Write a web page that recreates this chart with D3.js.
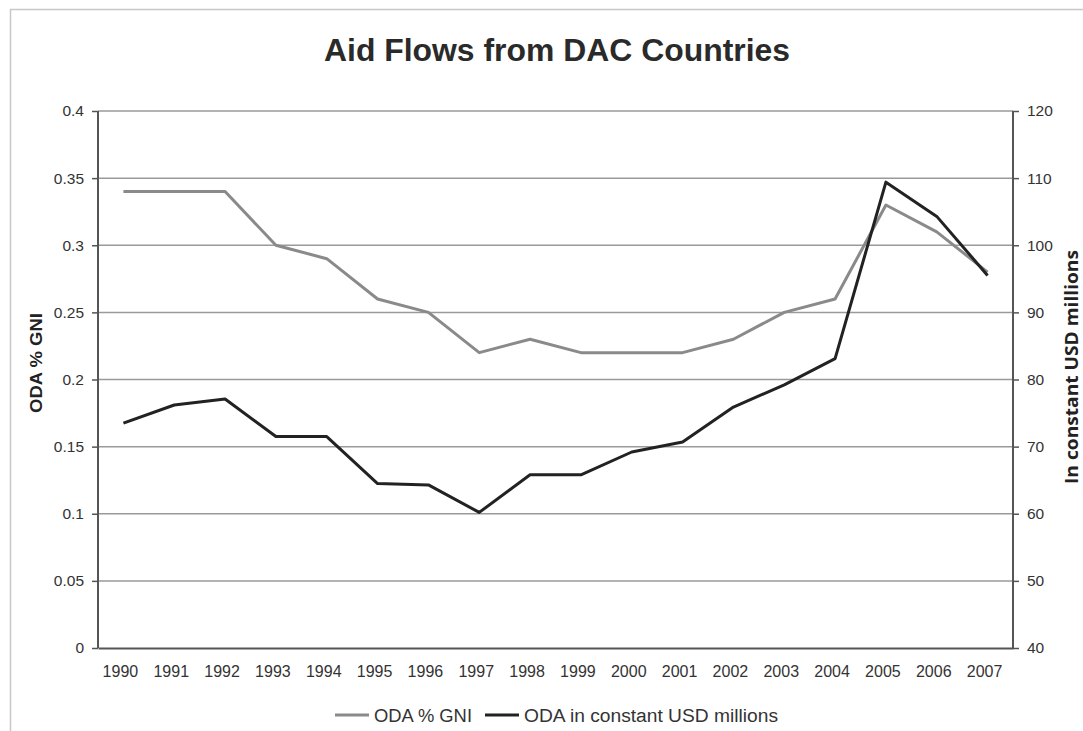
<!DOCTYPE html>
<html>
<head>
<meta charset="utf-8">
<script src="https://cdn.jsdelivr.net/npm/d3@7"></script>
<style>
  body { margin: 0; background: #fff; }
  svg { display: block; font-family: "Liberation Sans", Arial, sans-serif; }
</style>
</head>
<body>
<div id="chart"></div>
<script>
// data
var years = ['1990','1991','1992','1993','1994','1995','1996','1997','1998',
             '1999','2000','2001','2002','2003','2004','2005','2006','2007']
var odaGni = [0.34,0.34,0.34,0.30,0.29,0.26,0.25,0.22,0.23,
              0.22,0.22,0.22,0.23,0.25,0.26,0.33,0.31,0.28]
var odaUsd = [73.5,76.2,77.1,71.5,71.5,64.5,64.3,60.2,65.8,
              65.8,69.2,70.7,75.9,79.2,83.1,109.4,104.3,95.5]
var leftTicks = [0,0.05,0.1,0.15,0.2,0.25,0.3,0.35,0.4]
var rightTicks = [40,50,60,70,80,90,100,110,120]
var seriesNames = ['ODA % GNI', 'ODA in constant USD millions']

var W = 1083, H = 731
var margin = {top: 111, right: 70, bottom: 83, left: 98}
var width = W - margin.left - margin.right,
    height = H - margin.top - margin.bottom

var svg = d3.select('#chart').append('svg')
    .attr('width', W)
    .attr('height', H)

// outer frame
svg.append('rect')
    .attr('x', 10.5).attr('y', 9.5)
    .attr('width', W + 20).attr('height', H + 20)
    .attr('fill', 'none')
    .attr('stroke', '#c8c8c8')
    .attr('stroke-width', 1.5)

svg.append('text')
    .attr('x', 557).attr('y', 61)
    .attr('text-anchor', 'middle')
    .attr('font-size', 31)
    .attr('font-weight', 'bold')
    .attr('fill', '#2a2a2a')
    .attr('textLength', 466)
    .attr('lengthAdjust', 'spacingAndGlyphs')
    .text('Aid Flows from DAC Countries')

var g = svg.append('g')
    .attr('transform', 'translate(' + margin.left + ',' + margin.top + ')')

var x = d3.scaleBand().domain(years).range([0, width])
var yL = d3.scaleLinear().domain([0, 0.4]).range([height, 0])
var yR = d3.scaleLinear().domain([40, 120]).range([height, 0])

// gridlines
g.selectAll('.grid').data(leftTicks.slice(1))
  .enter().append('line')
    .attr('x1', 0).attr('x2', width)
    .attr('y1', function(d){ return yL(d) })
    .attr('y2', function(d){ return yL(d) })
    .attr('stroke', '#9a9a9a')
    .attr('stroke-width', 1.5)

var leftAxis = g.append('g')
    .call(d3.axisLeft(yL).tickValues(leftTicks).tickSize(6).tickPadding(8)
      .tickFormat(function(d){ return d3.format('')(+d.toFixed(2)) }))
var rightAxis = g.append('g')
    .attr('transform', 'translate(' + width + ',0)')
    .call(d3.axisRight(yR).tickValues(rightTicks).tickSize(6).tickPadding(8))
var bottomAxis = g.append('g')
    .attr('transform', 'translate(0,' + height + ')')
    .call(d3.axisBottom(x).tickSize(0).tickPadding(18))

;[leftAxis, rightAxis, bottomAxis].forEach(function(a){
  a.select('.domain').attr('stroke', '#555').attr('stroke-width', 2)
  a.selectAll('.tick line').attr('stroke', '#555').attr('stroke-width', 1.5)
  a.selectAll('text')
    .attr('font-size', 15.5)
    .attr('fill', '#333')
    .attr('font-family', '"Liberation Sans", Arial, sans-serif')
})
bottomAxis.selectAll('text').attr('dx', -3).attr('font-size', 16)
leftAxis.select('.domain').attr('d', 'M0,0V' + height)
rightAxis.select('.domain').attr('d', 'M0,0V' + height)

// axis titles
svg.append('text')
    .attr('transform', 'translate(42,363) rotate(-90)')
    .attr('text-anchor', 'middle')
    .attr('font-size', 17)
    .attr('font-weight', 'bold')
    .attr('fill', '#222')
    .attr('textLength', 100)
    .attr('lengthAdjust', 'spacingAndGlyphs')
    .text('ODA % GNI')
svg.append('text')
    .attr('transform', 'translate(1078,367) rotate(-90)')
    .attr('text-anchor', 'middle')
    .attr('font-size', 17)
    .attr('font-weight', 'bold')
    .attr('font-family', '"Open Sans", sans-serif')
    .attr('fill', '#222')
    .attr('textLength', 234)
    .attr('lengthAdjust', 'spacingAndGlyphs')
    .text('In constant USD millions')

var cx = function(d, i){ return x(years[i]) + x.bandwidth() / 2 }

var lineL = d3.line().x(cx).y(function(d){ return yL(d) })
var lineR = d3.line().x(cx).y(function(d){ return yR(d) })

g.append('path')
    .datum(odaGni)
    .attr('d', lineL)
    .attr('fill', 'none')
    .attr('stroke', '#8a8a8a')
    .attr('stroke-width', 3)
    .attr('stroke-linejoin', 'round')

g.append('path')
    .datum(odaUsd)
    .attr('d', lineR)
    .attr('fill', 'none')
    .attr('stroke', '#222')
    .attr('stroke-width', 3)
    .attr('stroke-linejoin', 'round')

// legend
var legend = svg.append('g').attr('transform', 'translate(335,715)')
var legendItems = [
  {name: seriesNames[0], color: '#8a8a8a', x: 0, w: 98},
  {name: seriesNames[1], color: '#222', x: 150, w: 254}
]
var li = legend.selectAll('g').data(legendItems).enter().append('g')
    .attr('transform', function(d){ return 'translate(' + d.x + ',0)' })
li.append('line')
    .attr('x1', 0).attr('x2', 34)
    .attr('stroke', function(d){ return d.color })
    .attr('stroke-width', 3)
li.append('text')
    .attr('x', 39).attr('y', 6.5)
    .attr('font-size', 18)
    .attr('fill', '#333')
    .attr('textLength', function(d){ return d.w })
    .attr('lengthAdjust', 'spacingAndGlyphs')
    .text(function(d){ return d.name })
</script>
</body>
</html>
